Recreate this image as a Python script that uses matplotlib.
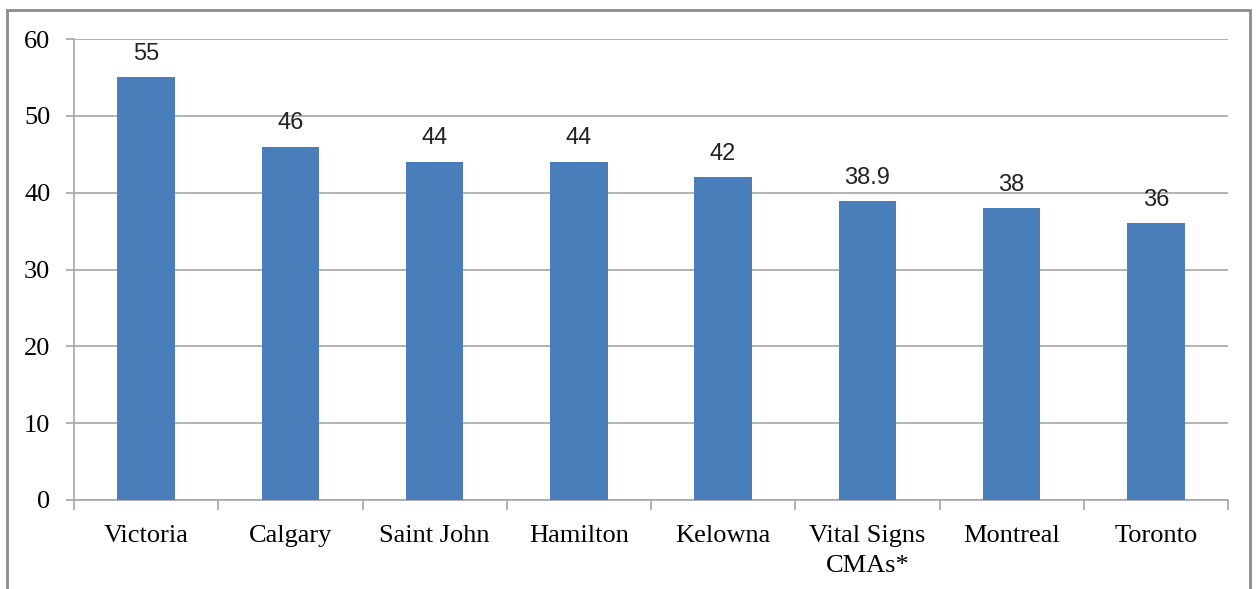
import matplotlib
matplotlib.use("Agg")
import matplotlib.pyplot as plt
import matplotlib.patches
import numpy as np

cities = ["Victoria", "Calgary", "Saint John", "Hamilton", "Kelowna",
          "Vital Signs\nCMAs*", "Montreal", "Toronto"]
values = [55, 46, 44, 44, 42, 38.9, 38, 36]
value_labels = ["55", "46", "44", "44", "42", "38.9", "38", "36"]
yticks = [0, 10, 20, 30, 40, 50, 60]

bar_color = "#4a7ebb"
grid_color = "#a6a6a6"

fig = plt.figure(figsize=(12.58, 5.89), dpi=100)
ax = fig.add_axes([74 / 1258, 89 / 589, (1228 - 74) / 1258, (500 - 39) / 589])

# outer chart frame
fig.patches.append(matplotlib.patches.Rectangle(
  (7 / 1258, -0.02), (1250 - 7) / 1258, (579 + 12) / 589,
  transform=fig.transFigure, fill=False, edgecolor="#8c8c8c", lw=2))

x = np.arange(len(cities))
ax.bar(x, values, width=0.4, color=bar_color, zorder=3)

for xi, v, lab in zip(x, values, value_labels):
  ax.annotate(lab, (xi, v), xytext=(0, 9), textcoords="offset points",
              ha="center", va="bottom", fontsize=17, family="Liberation Sans",
              color="#222222")

ax.set_xlim(-0.5, len(cities) - 0.5)
ax.set_ylim(0, 60)
ax.set_yticks(yticks)
ax.set_yticklabels([str(t) for t in yticks], family="Liberation Serif", fontsize=19)
ax.yaxis.grid(True, color=grid_color, lw=1.2, zorder=0)
ax.tick_params(axis="y", length=6, color=grid_color, width=1.2, pad=11)

# category labels centred, tick marks on the boundaries
ax.set_xticks(x)
ax.set_xticklabels(cities, family="Liberation Serif", fontsize=19, linespacing=1.45)
ax.tick_params(axis="x", length=0, pad=18)
ax.set_xticks(np.arange(len(cities) + 1) - 0.5, minor=True)
ax.tick_params(axis="x", which="minor", length=7, color=grid_color, width=1.2)

for side in ["top", "right"]:
  ax.spines[side].set_visible(False)
for side in ["left", "bottom"]:
  ax.spines[side].set_color(grid_color)
  ax.spines[side].set_linewidth(1.2)

fig.savefig("out.png", dpi=100)
